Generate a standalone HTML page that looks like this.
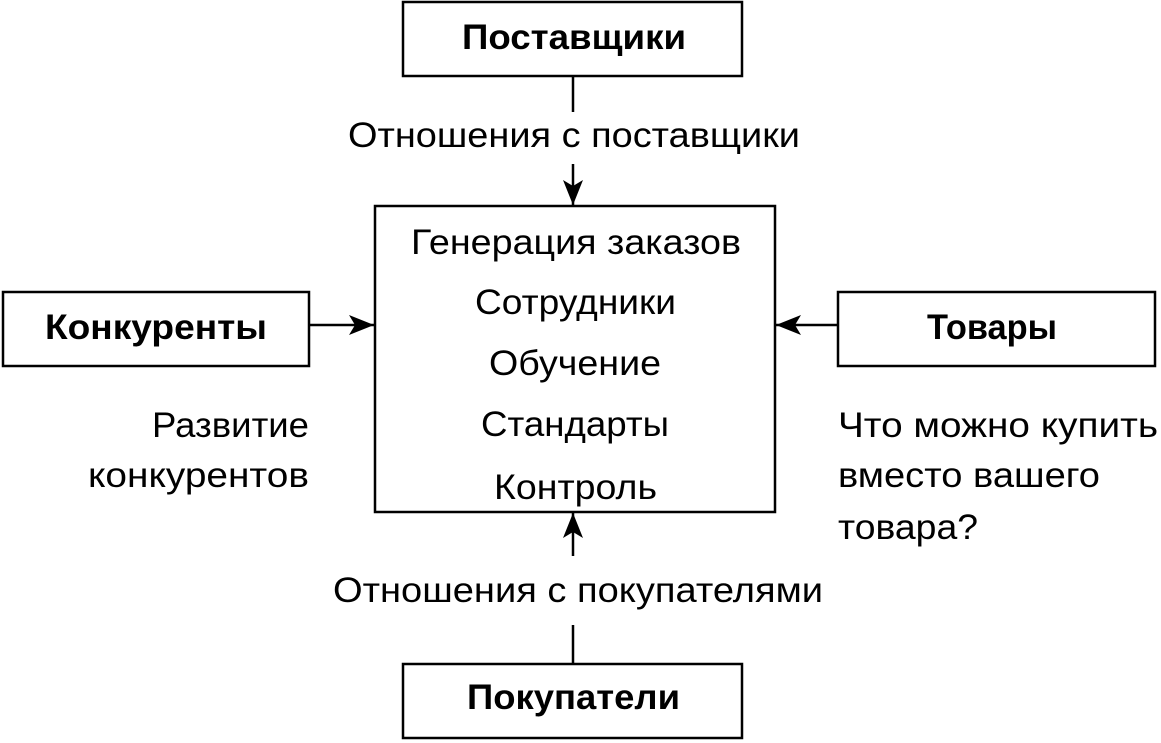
<!DOCTYPE html>
<html><head><meta charset="utf-8"><style>html,body{margin:0;padding:0;background:#fff}svg{display:block}</style></head>
<body>
<svg width="1161" height="743" viewBox="0 0 1161 743" xmlns="http://www.w3.org/2000/svg" font-family="'Liberation Sans', sans-serif" font-size="35" fill="#000">
<defs><marker id="a" markerWidth="26" markerHeight="20" refX="25" refY="10" orient="auto" markerUnits="userSpaceOnUse"><path d="M0,0 L25,10 L0,20 L6,10 z" fill="#000"/></marker></defs>
<g fill="none" stroke="#000" stroke-width="2.5">
<rect x="403" y="2" width="339" height="74"/>
<rect x="375" y="206" width="400" height="306"/>
<rect x="3" y="292" width="306" height="74"/>
<rect x="838" y="292" width="317" height="74"/>
<rect x="403" y="664" width="339" height="74"/>
<line x1="573" y1="76" x2="573" y2="112"/>
<line x1="573" y1="164" x2="573" y2="205" marker-end="url(#a)"/>
<line x1="573" y1="556" x2="573" y2="513" marker-end="url(#a)"/>
<line x1="573" y1="625" x2="573" y2="664"/>
<line x1="309" y1="325" x2="374" y2="325" marker-end="url(#a)"/>
<line x1="838" y1="325" x2="776" y2="325" marker-end="url(#a)"/>
</g>
<g font-weight="bold">
<text x="462" y="49" textLength="224" lengthAdjust="spacingAndGlyphs">Поставщики</text>
<text x="45" y="339" textLength="222" lengthAdjust="spacingAndGlyphs">Конкуренты</text>
<text x="927" y="339" textLength="130" lengthAdjust="spacingAndGlyphs">Товары</text>
<text x="467" y="709" textLength="213" lengthAdjust="spacingAndGlyphs">Покупатели</text>
</g>
<text x="348" y="147" textLength="452" lengthAdjust="spacingAndGlyphs">Отношения с поставщики</text>
<text x="333" y="602" textLength="490" lengthAdjust="spacingAndGlyphs">Отношения с покупателями</text>
<text x="411" y="254" textLength="330" lengthAdjust="spacingAndGlyphs">Генерация заказов</text>
<text x="475" y="314" textLength="201" lengthAdjust="spacingAndGlyphs">Сотрудники</text>
<text x="489" y="375" textLength="172" lengthAdjust="spacingAndGlyphs">Обучение</text>
<text x="481" y="436" textLength="188" lengthAdjust="spacingAndGlyphs">Стандарты</text>
<text x="494" y="499" textLength="163" lengthAdjust="spacingAndGlyphs">Контроль</text>
<text x="152" y="437" textLength="157" lengthAdjust="spacingAndGlyphs">Развитие</text>
<text x="88" y="487" textLength="221" lengthAdjust="spacingAndGlyphs">конкурентов</text>
<text x="838" y="437" textLength="320" lengthAdjust="spacingAndGlyphs">Что можно купить</text>
<text x="838" y="487" textLength="262" lengthAdjust="spacingAndGlyphs">вместо вашего</text>
<text x="838" y="539" textLength="140" lengthAdjust="spacingAndGlyphs">товара?</text>
</svg>
</body></html>
